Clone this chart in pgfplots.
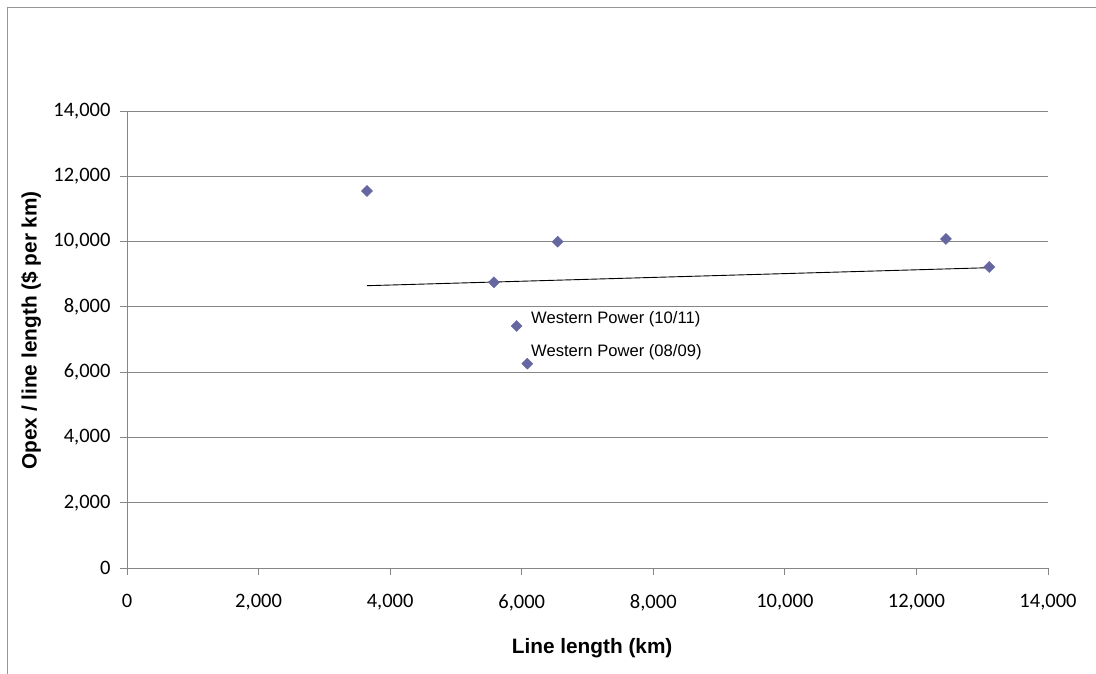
\documentclass[border=0pt]{standalone}
\usepackage{pgfplots}
\pgfplotsset{compat=1.18}
\usepackage{fontspec}
\setmainfont{Carlito}
\newfontfamily\arial{Liberation Sans}
\definecolor{gridgray}{RGB}{134,134,134}
\definecolor{markc}{RGB}{102,102,160}
\definecolor{framegray}{RGB}{150,150,150}
\begin{document}
\begin{tikzpicture}[x=1pt,y=1pt]
\useasboundingbox (0,0) rectangle (1096,673);
\draw[framegray, line width=1.2pt] (7.5,-20) rectangle (1120,665.5);
\begin{axis}[
  at={(127pt,105pt)}, anchor=south west,
  scale only axis, width=921pt, height=457pt,
  xmin=0, xmax=14000, ymin=0, ymax=14000,
  xtick={0,2000,...,14000}, ytick={0,2000,...,14000},
  scaled ticks=false,
  axis x line*=bottom, axis y line*=left,
  axis line style={gridgray, line width=0.9pt, -},
  tick style={gridgray, line width=0.9pt},
  tick align=outside, major tick length=7pt,
  ymajorgrids, grid style={gridgray, line width=0.9pt},
  /pgf/number format/fixed,
  /pgf/number format/1000 sep={,},
  /pgf/number format/assume math mode=true,
  ticklabel style={font=\fontsize{20.5}{24}\selectfont, text=black},
  xticklabel style={yshift=-16pt},
  yticklabel style={xshift=-6pt},
  xlabel={Line length (km)},
  ylabel={Opex / line length (\$ per km)},
  label style={font=\arial\bfseries\fontsize{20.8}{24}\selectfont},
  xlabel style={at={(axis description cs:0.505,-0.175)}, anchor=center},
  ylabel style={at={(axis description cs:-0.104,0.52)}, anchor=center, rotate=0},
  clip=false,
]
\addplot[black, line width=0.9pt, no marks] coordinates {(3648,8648) (13107,9200)};
\addplot[only marks, mark=square*, mark size=3.9pt, mark options={rotate=45, fill=markc, draw=markc}]
  coordinates {
  (3648,11550) (5578,8753) (6546,9997) (5923,7414) (6085,6259) (12449,10080) (13107,9222)
  };
\node[anchor=west, inner sep=0pt, font=\arial\fontsize{16.6}{20}\selectfont] at (axis cs:6141,7628) {Western Power (10/11)};
\node[anchor=west, inner sep=0pt, font=\arial\fontsize{16.6}{20}\selectfont] at (axis cs:6141,6596) {Western Power (08/09)};
\end{axis}
\end{tikzpicture}
\end{document}
